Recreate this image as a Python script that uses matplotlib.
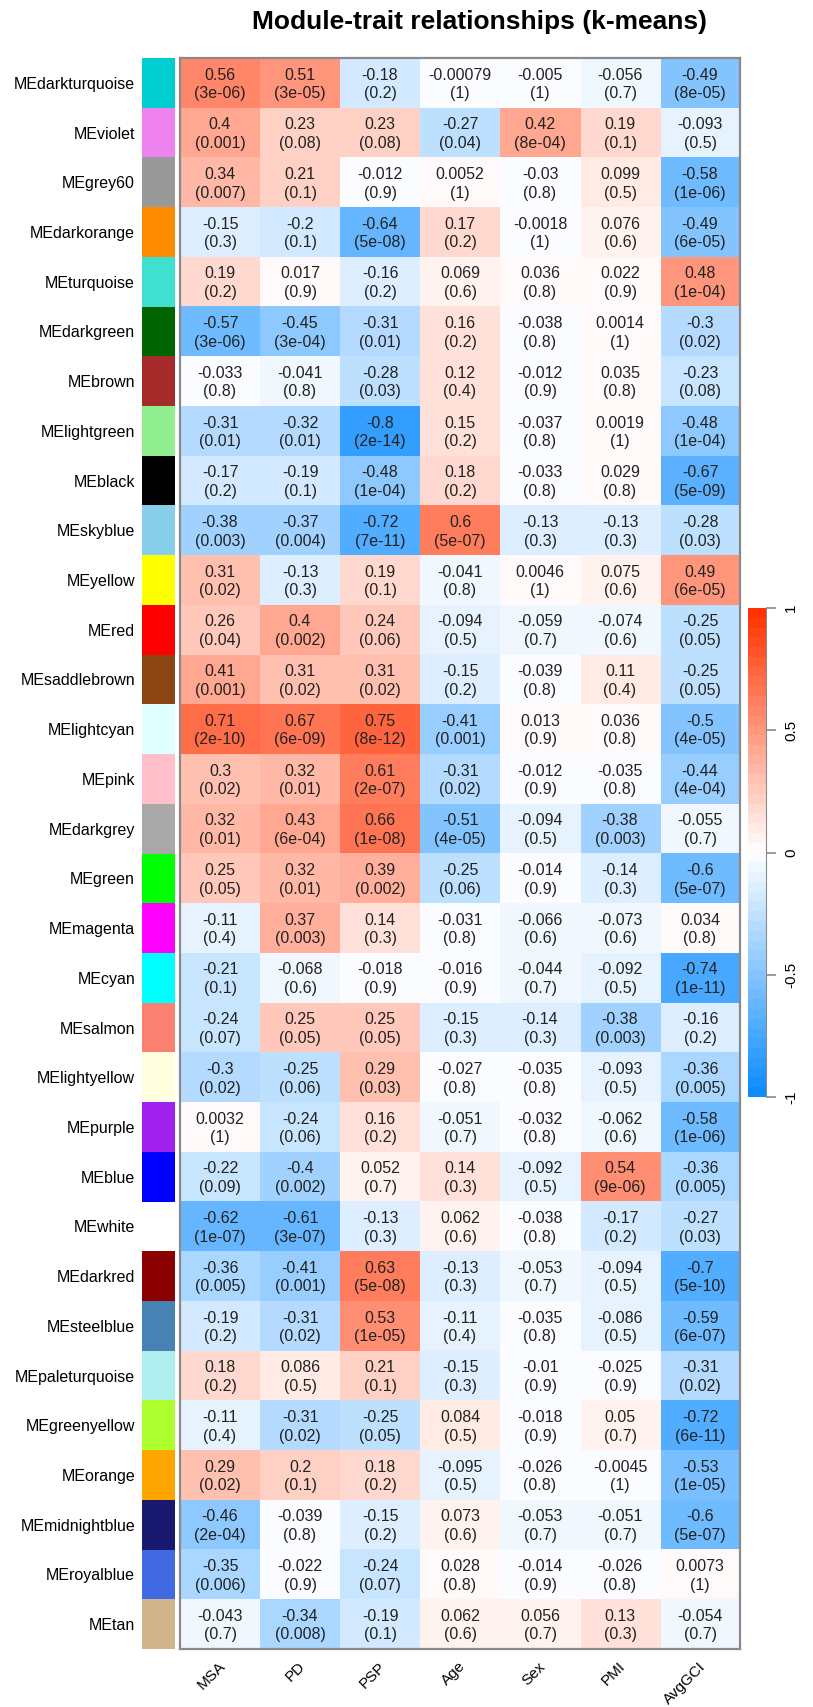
import numpy as np
import matplotlib
matplotlib.use("Agg")
import matplotlib.pyplot as plt
from matplotlib.colors import LinearSegmentedColormap
from matplotlib.transforms import ScaledTranslation

plt.rcParams['font.family'] = ['Liberation Sans', 'DejaVu Sans']

# module eigengenes (rows) and their colour swatches
modules = ["MEdarkturquoise", "MEviolet", "MEgrey60", "MEdarkorange", "MEturquoise",
           "MEdarkgreen", "MEbrown", "MElightgreen", "MEblack", "MEskyblue", "MEyellow",
           "MEred", "MEsaddlebrown", "MElightcyan", "MEpink", "MEdarkgrey", "MEgreen",
           "MEmagenta", "MEcyan", "MEsalmon", "MElightyellow", "MEpurple", "MEblue",
           "MEwhite", "MEdarkred", "MEsteelblue", "MEpaleturquoise", "MEgreenyellow",
           "MEorange", "MEmidnightblue", "MEroyalblue", "MEtan"]
module_colors = ["#00CED1", "#EE82EE", "#999999", "#FF8C00", "#40E0D0", "#006400",
                 "#A52A2A", "#90EE90", "#000000", "#87CEEB", "#FFFF00", "#FF0000",
                 "#8B4513", "#E0FFFF", "#FFC0CB", "#A9A9A9", "#00FF00", "#FF00FF",
                 "#00FFFF", "#FA8072", "#FFFFE0", "#A020F0", "#0000FF", "#FFFFFF",
                 "#8B0000", "#4682B4", "#AFEEEE", "#ADFF2F", "#FFA500", "#191970",
                 "#4169E1", "#D2B48C"]
traits = ["MSA", "PD", "PSP", "Age", "Sex", "PMI", "AvgGCI"]

# correlations and p-values, one list per trait
cor_msa = [0.56, 0.4, 0.34, -0.15, 0.19, -0.57, -0.033, -0.31, -0.17, -0.38, 0.31, 0.26,
           0.41, 0.71, 0.3, 0.32, 0.25, -0.11, -0.21, -0.24, -0.3, 0.0032, -0.22, -0.62,
           -0.36, -0.19, 0.18, -0.11, 0.29, -0.46, -0.35, -0.043]
p_msa = ["3e-06", "0.001", "0.007", "0.3", "0.2", "3e-06", "0.8", "0.01", "0.2", "0.003",
         "0.02", "0.04", "0.001", "2e-10", "0.02", "0.01", "0.05", "0.4", "0.1", "0.07",
         "0.02", "1", "0.09", "1e-07", "0.005", "0.2", "0.2", "0.4", "0.02", "2e-04",
         "0.006", "0.7"]
cor_pd = [0.51, 0.23, 0.21, -0.2, 0.017, -0.45, -0.041, -0.32, -0.19, -0.37, -0.13, 0.4,
          0.31, 0.67, 0.32, 0.43, 0.32, 0.37, -0.068, 0.25, -0.25, -0.24, -0.4, -0.61,
          -0.41, -0.31, 0.086, -0.31, 0.2, -0.039, -0.022, -0.34]
p_pd = ["3e-05", "0.08", "0.1", "0.1", "0.9", "3e-04", "0.8", "0.01", "0.1", "0.004",
        "0.3", "0.002", "0.02", "6e-09", "0.01", "6e-04", "0.01", "0.003", "0.6", "0.05",
        "0.06", "0.06", "0.002", "3e-07", "0.001", "0.02", "0.5", "0.02", "0.1", "0.8",
        "0.9", "0.008"]
cor_psp = [-0.18, 0.23, -0.012, -0.64, -0.16, -0.31, -0.28, -0.8, -0.48, -0.72, 0.19, 0.24,
           0.31, 0.75, 0.61, 0.66, 0.39, 0.14, -0.018, 0.25, 0.29, 0.16, 0.052, -0.13,
           0.63, 0.53, 0.21, -0.25, 0.18, -0.15, -0.24, -0.19]
p_psp = ["0.2", "0.08", "0.9", "5e-08", "0.2", "0.01", "0.03", "2e-14", "1e-04", "7e-11",
         "0.1", "0.06", "0.02", "8e-12", "2e-07", "1e-08", "0.002", "0.3", "0.9", "0.05",
         "0.03", "0.2", "0.7", "0.3", "5e-08", "1e-05", "0.1", "0.05", "0.2", "0.2",
         "0.07", "0.1"]
cor_age = [-0.00079, -0.27, 0.0052, 0.17, 0.069, 0.16, 0.12, 0.15, 0.18, 0.6, -0.041,
           -0.094, -0.15, -0.41, -0.31, -0.51, -0.25, -0.031, -0.016, -0.15, -0.027,
           -0.051, 0.14, 0.062, -0.13, -0.11, -0.15, 0.084, -0.095, 0.073, 0.028, 0.062]
p_age = ["1", "0.04", "1", "0.2", "0.6", "0.2", "0.4", "0.2", "0.2", "5e-07", "0.8",
         "0.5", "0.2", "0.001", "0.02", "4e-05", "0.06", "0.8", "0.9", "0.3", "0.8", "0.7",
         "0.3", "0.6", "0.3", "0.4", "0.3", "0.5", "0.5", "0.6", "0.8", "0.6"]
cor_sex = [-0.005, 0.42, -0.03, -0.0018, 0.036, -0.038, -0.012, -0.037, -0.033, -0.13,
           0.0046, -0.059, -0.039, 0.013, -0.012, -0.094, -0.014, -0.066, -0.044, -0.14,
           -0.035, -0.032, -0.092, -0.038, -0.053, -0.035, -0.01, -0.018, -0.026, -0.053,
           -0.014, 0.056]
p_sex = ["1", "8e-04", "0.8", "1", "0.8", "0.8", "0.9", "0.8", "0.8", "0.3", "1", "0.7",
         "0.8", "0.9", "0.9", "0.5", "0.9", "0.6", "0.7", "0.3", "0.8", "0.8", "0.5", "0.8",
         "0.7", "0.8", "0.9", "0.9", "0.8", "0.7", "0.9", "0.7"]
cor_pmi = [-0.056, 0.19, 0.099, 0.076, 0.022, 0.0014, 0.035, 0.0019, 0.029, -0.13, 0.075,
           -0.074, 0.11, 0.036, -0.035, -0.38, -0.14, -0.073, -0.092, -0.38, -0.093,
           -0.062, 0.54, -0.17, -0.094, -0.086, -0.025, 0.05, -0.0045, -0.051, -0.026, 0.13]
p_pmi = ["0.7", "0.1", "0.5", "0.6", "0.9", "1", "0.8", "1", "0.8", "0.3", "0.6", "0.6",
         "0.4", "0.8", "0.8", "0.003", "0.3", "0.6", "0.5", "0.003", "0.5", "0.6", "9e-06",
         "0.2", "0.5", "0.5", "0.9", "0.7", "1", "0.7", "0.8", "0.3"]
cor_gci = [-0.49, -0.093, -0.58, -0.49, 0.48, -0.3, -0.23, -0.48, -0.67, -0.28, 0.49, -0.25,
           -0.25, -0.5, -0.44, -0.055, -0.6, 0.034, -0.74, -0.16, -0.36, -0.58, -0.36,
           -0.27, -0.7, -0.59, -0.31, -0.72, -0.53, -0.6, 0.0073, -0.054]
p_gci = ["8e-05", "0.5", "1e-06", "6e-05", "1e-04", "0.02", "0.08", "1e-04", "5e-09",
         "0.03", "6e-05", "0.05", "0.05", "4e-05", "4e-04", "0.7", "5e-07", "0.8", "1e-11",
         "0.2", "0.005", "1e-06", "0.005", "0.03", "5e-10", "6e-07", "0.02", "6e-11",
         "1e-05", "5e-07", "1", "0.7"]

cor = np.column_stack([cor_msa, cor_pd, cor_psp, cor_age, cor_sex, cor_pmi, cor_gci])
pvals = np.column_stack([p_msa, p_pd, p_psp, p_age, p_sex, p_pmi, p_gci])

# blue-white-red palette, 50 steps
bwr = LinearSegmentedColormap.from_list(
    "blueWhiteRed", [(0.05, 0.55, 1.0), (1.0, 1.0, 1.0), (1.0, 0.2, 0.0)], N=50)

W, H = 813, 1707
fig = plt.figure(figsize=(W / 100, H / 100), dpi=100)

def px_axes(x0, y0, x1, y1):
    return fig.add_axes([x0 / W, 1 - y1 / H, (x1 - x0) / W, (y1 - y0) / H])

nrow, ncol = cor.shape
top, bottom = 58, 1649

ax = px_axes(180, top, 740, bottom)
im = ax.imshow(cor, cmap=bwr, vmin=-1, vmax=1, aspect="auto", interpolation="nearest")
for i in range(nrow):
    for j in range(ncol):
        ax.text(j, i + 0.03, "%s\n(%s)" % (str(cor[i, j]), pvals[i, j]),
                ha="center", va="center", fontsize=11.5, linespacing=1.3, color="#222222")
for s in ax.spines.values():
    s.set_color("#8a8a8a")
    s.set_linewidth(1.6)
ax.set_yticks([])
ax.set_xticks(range(ncol))
ax.set_xticklabels(traits, rotation=45, ha="right", va="center",
                   rotation_mode="anchor", fontsize=11)
ax.tick_params(axis="x", length=0, pad=11)
for lab in ax.get_xticklabels():
    lab.set_transform(lab.get_transform() + ScaledTranslation(0.03, 0, fig.dpi_scale_trans))

# colour swatches next to the row labels
ax_sw = px_axes(142, top, 175, bottom)
ax_sw.barh(range(nrow), 1, height=1, color=module_colors, linewidth=0)
ax_sw.set_ylim(nrow - 0.5, -0.5)
ax_sw.set_xlim(0, 1)
ax_sw.set_xticks([])
ax_sw.set_yticks(range(nrow))
ax_sw.set_yticklabels(modules, fontsize=11.5)
ax_sw.tick_params(axis="y", length=0, pad=5)
for s in ax_sw.spines.values():
    s.set_visible(False)

# colour key
cax = px_axes(748, 608, 766, 1097)
cb = fig.colorbar(im, cax=cax, ticks=[-1, -0.5, 0, 0.5, 1])
cb.outline.set_visible(False)
cax.spines["right"].set_visible(True)
cax.spines["right"].set_color("#8a8a8a")
cb.ax.set_yticklabels(["-1", "-0.5", "0", "0.5", "1"], rotation=90, va="center", fontsize=11)
cb.ax.tick_params(length=7, color="#8a8a8a", width=1.2, pad=6)

fig.text(479 / W, 1 - 22 / H, "Module-trait relationships (k-means)",
         ha="center", va="center", fontsize=19, fontweight="bold")

fig.savefig("out.png", dpi=100)
